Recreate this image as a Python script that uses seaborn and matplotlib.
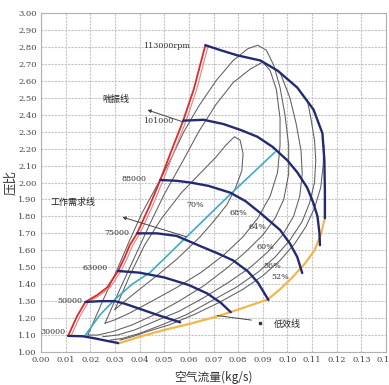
import matplotlib
matplotlib.use("Agg")
import matplotlib.pyplot as plt
import seaborn as sns
import pandas as pd
import numpy as np

# 压气机特性图 (compressor map)

# 喘振线
surge_x = [0.011, 0.0146, 0.018, 0.0228, 0.0268, 0.0313, 0.034, 0.036, 0.039, 0.044, 0.0484, 0.053, 0.0577, 0.062, 0.0667]
surge_y = [1.095, 1.21, 1.295, 1.336, 1.38, 1.478, 1.56, 1.63, 1.70, 1.86, 2.015, 2.19, 2.365, 2.55, 2.81]

# 低效线
low_x = [0.0313, 0.040, 0.050, 0.060, 0.0715, 0.080, 0.087, 0.092, 0.097, 0.102, 0.107, 0.111, 0.1135, 0.1152]
low_y = [1.05, 1.09, 1.13, 1.165, 1.21, 1.25, 1.285, 1.31, 1.37, 1.44, 1.52, 1.60, 1.69, 1.79]

# 工作需求线
work_x = [0.018, 0.024, 0.030, 0.037, 0.0443, 0.0577, 0.0768, 0.095]
work_y = [1.10, 1.22, 1.31, 1.40, 1.47, 1.66, 1.93, 2.18]

# 等转速线
speed_labels = ["30000", "50000", "63000", "75000", "88000", "101000", "113000rpm"]
speed_x = [
    [0.011, 0.017, 0.022, 0.027, 0.0313],
    [0.018, 0.024, 0.030, 0.034, 0.040, 0.048, 0.0565],
    [0.0313, 0.040, 0.050, 0.060, 0.0675, 0.073, 0.077],
    [0.039, 0.047, 0.055, 0.0646, 0.072, 0.078, 0.084, 0.088, 0.0905, 0.0923],
    [0.0484, 0.055, 0.0606, 0.068, 0.0768, 0.083, 0.089, 0.097, 0.101, 0.104, 0.106],
    [0.0577, 0.066, 0.074, 0.081, 0.0878, 0.094, 0.100, 0.104, 0.108, 0.1105, 0.1122, 0.113, 0.1132],
    [0.0667, 0.073, 0.0797, 0.089, 0.096, 0.104, 0.1106, 0.1142, 0.115, 0.1152, 0.1152],
]
speed_y = [
    [1.095, 1.093, 1.08, 1.065, 1.053],
    [1.295, 1.30, 1.30, 1.285, 1.255, 1.215, 1.175],
    [1.478, 1.468, 1.44, 1.395, 1.345, 1.29, 1.235],
    [1.70, 1.70, 1.685, 1.625, 1.58, 1.54, 1.475, 1.41, 1.35, 1.307],
    [2.015, 2.01, 2.0, 1.98, 1.94, 1.89, 1.82, 1.72, 1.64, 1.56, 1.466],
    [2.365, 2.37, 2.345, 2.31, 2.27, 2.21, 2.13, 2.06, 1.97, 1.88, 1.80, 1.70, 1.63],
    [2.81, 2.78, 2.75, 2.72, 2.66, 2.56, 2.43, 2.29, 2.13, 1.95, 1.79],
]
speed_text_x = [0.0098, 0.0167, 0.027, 0.036, 0.043, 0.0535, 0.0606]
speed_text_y = [1.12, 1.30, 1.495, 1.70, 2.02, 2.36, 2.805]

# 等效率线
eff_labels = ["70%", "68%", "64%", "60%", "56%", "52%"]
eff_x = [
    [0.030, 0.036, 0.042, 0.049, 0.057, 0.065, 0.071, 0.075, 0.0785, 0.0808, 0.082, 0.0815, 0.079, 0.0755, 0.070, 0.0646, 0.0553, 0.047, 0.040, 0.034, 0.030],
    [0.026, 0.032, 0.038, 0.044, 0.050, 0.0577, 0.064, 0.071, 0.078, 0.085, 0.090, 0.093, 0.0955, 0.097, 0.097, 0.096, 0.093, 0.088, 0.082, 0.074, 0.065, 0.055, 0.045, 0.036, 0.030, 0.026],
    [0.019, 0.025, 0.031, 0.036, 0.041, 0.047, 0.0524, 0.058, 0.064, 0.071, 0.078, 0.084, 0.088, 0.0915, 0.0945, 0.097, 0.099, 0.1005, 0.1005, 0.0985, 0.095, 0.090, 0.083, 0.075, 0.066, 0.056, 0.046, 0.037, 0.029, 0.023, 0.019],
    [0.097, 0.101, 0.1035, 0.1055, 0.106, 0.105, 0.1025, 0.098, 0.092, 0.085, 0.076, 0.066, 0.056, 0.046, 0.038, 0.031, 0.025],
    [0.108, 0.1095, 0.111, 0.1115, 0.111, 0.109, 0.106, 0.101, 0.095, 0.088, 0.079, 0.069, 0.059, 0.049, 0.040, 0.033, 0.028],
    [0.1148, 0.1145, 0.1135, 0.111, 0.1075, 0.103, 0.097, 0.090, 0.082, 0.072, 0.062, 0.052, 0.043, 0.037, 0.032],
]
eff_y = [
    [1.25, 1.45, 1.63, 1.79, 1.94, 2.06, 2.15, 2.22, 2.27, 2.25, 2.17, 2.07, 1.97, 1.87, 1.77, 1.68, 1.55, 1.45, 1.37, 1.30, 1.25],
    [1.17, 1.37, 1.56, 1.75, 1.93, 2.13, 2.30, 2.46, 2.59, 2.67, 2.71, 2.66, 2.55, 2.38, 2.22, 2.06, 1.92, 1.79, 1.68, 1.57, 1.47, 1.38, 1.30, 1.23, 1.19, 1.17],
    [1.10, 1.30, 1.49, 1.66, 1.82, 1.98, 2.13, 2.30, 2.45, 2.60, 2.72, 2.79, 2.81, 2.78, 2.69, 2.56, 2.40, 2.22, 2.05, 1.90, 1.79, 1.69, 1.59, 1.49, 1.39, 1.30, 1.22, 1.16, 1.12, 1.10, 1.10],
    [2.65, 2.50, 2.35, 2.19, 2.05, 1.92, 1.80, 1.69, 1.59, 1.50, 1.41, 1.32, 1.24, 1.18, 1.13, 1.10, 1.09],
    [2.49, 2.38, 2.25, 2.13, 2.00, 1.88, 1.77, 1.66, 1.56, 1.47, 1.38, 1.30, 1.22, 1.16, 1.11, 1.08, 1.07],
    [2.22, 2.10, 1.97, 1.85, 1.74, 1.64, 1.54, 1.45, 1.37, 1.29, 1.22, 1.16, 1.12, 1.09, 1.07],
]
eff_text_x = [0.0626, 0.080, 0.088, 0.091, 0.094, 0.097]
eff_text_y = [1.87, 1.82, 1.74, 1.62, 1.51, 1.44]

x_ticks = [0.00, 0.01, 0.02, 0.03, 0.04, 0.05, 0.06, 0.07, 0.08, 0.09, 0.10, 0.11, 0.12, 0.13, 0.14]
y_ticks = [1.0 + 0.1 * i for i in range(21)]

sns.set_theme(style="white")
plt.rcParams['font.family'] = ['Noto Sans CJK SC', 'DejaVu Sans']

fig = plt.figure(figsize=(3.89, 3.85), dpi=100)
ax = fig.add_axes([41 / 389, 1 - 352 / 385, 345 / 389, 339 / 385])

navy = '#232a72'
gray = '#5e5e5e'

for ex, ey in zip(eff_x, eff_y):
    sns.lineplot(x=ex, y=ey, sort=False, estimator=None, ax=ax, color=gray, lw=0.75)

sns.lineplot(x=work_x, y=work_y, sort=False, estimator=None, ax=ax, color='#3fa9c9', lw=1.2)
sns.lineplot(x=low_x, y=low_y, sort=False, estimator=None, ax=ax, color='#f2b64a', lw=1.6)
sns.lineplot(x=[v + 0.0012 for v in surge_x], y=surge_y, sort=False, estimator=None, ax=ax, color='#e88080', lw=0.8)
sns.lineplot(x=surge_x, y=surge_y, sort=False, estimator=None, ax=ax, color='#e02828', lw=1.3)

for sx, sy in zip(speed_x, speed_y):
    sns.lineplot(x=sx, y=sy, sort=False, estimator=None, ax=ax, color=navy, lw=1.7)

for t, tx, ty in zip(speed_labels, speed_text_x, speed_text_y):
    ax.text(tx, ty, t, fontsize=5.8, ha='right', va='center', color='#333333', family='DejaVu Serif')

for t, tx, ty in zip(eff_labels, eff_text_x, eff_text_y):
    ax.text(tx, ty, t, fontsize=5.8, ha='center', va='center', color='#333333', family='DejaVu Serif')

ax.annotate('喘振线', xy=(0.0577, 2.357), xytext=(0.0305, 2.49), fontsize=6.5, color='#222222',
            ha='center', va='center',
            arrowprops=dict(arrowstyle='<|-', color='#444444', lw=0.7, mutation_scale=5,
                            shrinkA=11, shrinkB=0))
ax.annotate('工作需求线', xy=(0.059, 1.68), xytext=(0.013, 1.885), fontsize=6.5, color='#222222',
            ha='center', va='center',
            arrowprops=dict(arrowstyle='<|-', color='#444444', lw=0.7, mutation_scale=5,
                            shrinkA=18, shrinkB=0))
ax.annotate('低效线', xy=(0.0715, 1.215), xytext=(0.100, 1.16), fontsize=6.5, color='#222222',
            ha='center', va='center',
            arrowprops=dict(arrowstyle='-', color='#444444', lw=0.7, shrinkA=14, shrinkB=0))
ax.plot([0.089], [1.17], marker='s', ms=1.8, color='#333333')

ax.set_xlim(0, 0.14)
ax.set_ylim(1.0, 3.0)
ax.set_xticks(x_ticks)
ax.set_yticks(y_ticks)
ax.set_xticklabels(['%.2f' % v for v in x_ticks], fontsize=6, family='DejaVu Serif', color='#444444')
ax.set_yticklabels(['%.2f' % v for v in y_ticks], fontsize=6, family='DejaVu Serif', color='#444444')
ax.tick_params(axis='both', length=0, pad=3)
ax.grid(True, color='#c4c4c4', lw=0.8, ls=(0, (2, 1)))
for s in ax.spines.values():
    s.set_color('#b0b0b0')
    s.set_linewidth(0.8)
ax.set_xlabel('空气流量(kg/s)', fontsize=8.5, color='#333333', labelpad=5, family=['Noto Sans CJK SC', 'DejaVu Sans'])
ax.set_ylabel('压比', fontsize=9, color='#333333', labelpad=1, family=['Noto Sans CJK SC', 'DejaVu Sans'])

fig.savefig('out.png', dpi=100)
